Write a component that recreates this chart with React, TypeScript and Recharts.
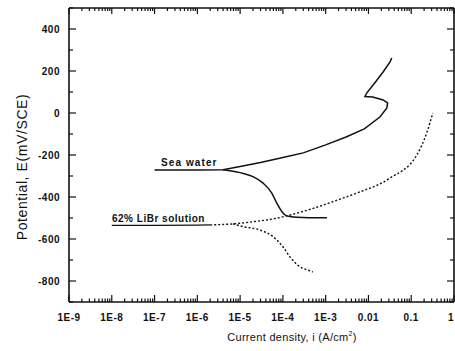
import React from 'react';
import { LineChart, Line, XAxis, YAxis, Customized } from 'recharts';

// current density axis (A/cm2), log decades
const decadeTicks = [1e-9, 1e-8, 1e-7, 1e-6, 1e-5, 1e-4, 1e-3, 1e-2, 1e-1, 1];
const decadeLabels = ['1E-9', '1E-8', '1E-7', '1E-6', '1E-5', '1E-4', '1E-3', '0.01', '0.1', '1'];
// potential axis (mV/SCE)
const potentialTicks = [-900, -800, -700, -600, -500, -400, -300, -200, -100, 0, 100, 200, 300, 400, 500];
const potentialLabels = ['-800', '-600', '-400', '-200', '0', '200', '400'];

// Sea water: anodic branch (with the nose near 0.02 A/cm2) and cathodic branch
const seaAnodicI = [1.0e-7, 1.0e-6, 4.0e-6, 1.0e-5, 3.0e-5, 1.0e-4, 3.0e-4, 1.0e-3, 3.0e-3, 8.0e-3, 1.85e-2, 2.7e-2, 2.8e-2, 2.2e-2, 1.26e-2, 8.3e-3, 9.1e-3, 1.4e-2, 2.2e-2, 3.2e-2, 3.5e-2];
const seaAnodicE = [-272, -272, -270, -255, -236, -212, -190, -152, -114, -76, -19, 24, 48, 62, 76, 78, 95, 143, 195, 243, 262];
const seaCathodicI = [4.0e-6, 1.0e-5, 2.0e-5, 3.4e-5, 5.5e-5, 7.2e-5, 9.5e-5, 1.23e-4, 2.1e-4, 4.0e-4, 1.07e-3];
const seaCathodicE = [-270, -284, -303, -333, -381, -429, -470, -490, -497, -499, -499];

// 62% LiBr solution: flat start, anodic and cathodic branches
const librBaseI = [1.0e-8, 1.0e-7, 1.0e-6, 2.0e-6];
const librBaseE = [-535, -535, -534, -533];
const librAnodicI = [2.0e-6, 6.8e-6, 2.0e-5, 7.2e-5, 1.23e-4, 4.3e-4, 2.1e-3, 5.4e-3, 3.2e-2, 0.135, 0.23, 0.32];
const librAnodicE = [-533, -528, -518, -501, -490, -459, -411, -381, -310, -200, -95, 0];
const librCathodicI = [6.8e-6, 1.17e-5, 2.9e-5, 5.9e-5, 1.0e-4, 1.45e-4, 2.2e-4, 4.3e-4, 5.0e-4];
const librCathodicE = [-528, -541, -557, -589, -637, -684, -724, -752, -757];

const toRows = (i: number[], e: number[]) => i.map((v, k) => ({ i: v, E: e[k] }));

const minorDecades = decadeTicks
    .flatMap(d => [1, 2, 3, 4, 5, 6, 7, 8, 9].map(m => m * d))
    .filter(v => v <= 1.0000001);

const FONT = '"Liberation Sans", Arial, sans-serif';
const INK = '#111';
const I_DOMAIN = [decadeTicks[0], decadeTicks[decadeTicks.length - 1]];
const E_DOMAIN = [potentialTicks[0], potentialTicks[potentialTicks.length - 1]];

const decadeIndex = (v: number) => decadeTicks.findIndex(d => Math.abs(v / d - 1) < 1e-6);

// ticks point into the plot; the axis hands us the point on the axis line
const BottomTick = (props: any) => {
    const { x, y, payload } = props;
    const idx = decadeIndex(payload.value);
    const major = idx >= 0;
    const last = idx === decadeTicks.length - 1;
    return (
        <g>
            <path d={`M${x},${y}V${y - (major ? 7 : 3.5)}`} stroke={INK} strokeWidth={1.2} fill="none" />
            {major && (
                <text x={last ? x - 3 : x} y={y + 19} textAnchor="middle" fontSize={10} fontWeight="bold"
                    fontFamily={FONT} fill={INK} letterSpacing={0.5}>
                    {decadeLabels[idx]}
                </text>
            )}
        </g>
    );
};

const TopTick = (props: any) => {
    const { x, y, payload } = props;
    const major = decadeIndex(payload.value) >= 0;
    return <path d={`M${x},${y}V${y + (major ? 6 : 3)}`} stroke={INK} strokeWidth={1.2} fill="none" />;
};

const LeftTick = (props: any) => {
    const { x, y, payload } = props;
    const v = payload.value;
    const label = potentialLabels.find(l => Number(l) === v);
    return (
        <g>
            <path d={`M${x},${y}H${x + (v % 200 === 0 ? 7 : 4)}`} stroke={INK} strokeWidth={1.2} fill="none" />
            {label !== undefined && (
                <text x={x - 9} y={y + 3.5} textAnchor="end" fontSize={10} fontWeight="bold"
                    fontFamily={FONT} fill={INK} letterSpacing={0.5}>
                    {label}
                </text>
            )}
        </g>
    );
};

const RightTick = (props: any) => {
    const { x, y, payload } = props;
    return <path d={`M${x},${y}H${x - (payload.value % 200 === 0 ? 7 : 4)}`} stroke={INK} strokeWidth={1.2} fill="none" />;
};

const Annotations = () => (
    <g fontFamily={FONT} fill={INK}>
        <text x={161} y={166} fontSize={10} fontWeight="bold" letterSpacing={1.1}>Sea water</text>
        <text x={112} y={221.5} fontSize={10} fontWeight="bold" letterSpacing={0.5}>62% LiBr solution</text>
        <text x={27} y={167} fontSize={14} letterSpacing={0.6} textAnchor="middle"
            transform="rotate(-90 27 167)">Potential, E(mV/SCE)</text>
        <text x={292} y={341} fontSize={11} letterSpacing={0.3} textAnchor="middle">
            Current density, i (A/cm<tspan dy={-5} fontSize={7}>2</tspan><tspan dy={5}>)</tspan>
        </text>
    </g>
);

export default function App() {
    const solid = { stroke: INK, strokeWidth: 1.5, dot: false, isAnimationActive: false, xAxisId: 'b', yAxisId: 'l' } as const;
    const dotted = { ...solid, strokeWidth: 1.4, strokeDasharray: '2 2' };
    const axisLine = { stroke: INK, strokeWidth: 1.6 };
    const common = { type: 'number', allowDataOverflow: true, interval: 0, tickSize: 0, tickMargin: 0, tickLine: false, axisLine } as const;
    return (
        <div style={{ position: 'absolute', left: 0, top: 0, background: '#fff' }}>
            <LineChart width={455} height={351} margin={{ top: 7, right: 0, bottom: 19, left: 0 }}>
                <XAxis {...common} xAxisId="b" dataKey="i" scale="log" domain={I_DOMAIN}
                    ticks={minorDecades} tick={BottomTick} height={30} />
                <XAxis {...common} xAxisId="t" orientation="top" dataKey="i" scale="log" domain={I_DOMAIN}
                    ticks={minorDecades} tick={TopTick} height={1} />
                <YAxis {...common} yAxisId="l" domain={E_DOMAIN} ticks={potentialTicks} tick={LeftTick} width={69} />
                <YAxis {...common} yAxisId="r" orientation="right" domain={E_DOMAIN} ticks={potentialTicks}
                    tick={RightTick} width={1} />
                <Line {...solid} data={toRows(seaAnodicI, seaAnodicE)} dataKey="E" type="linear" />
                <Line {...solid} data={toRows(seaCathodicI, seaCathodicE)} dataKey="E" type="monotone" />
                <Line {...solid} strokeWidth={1.3} data={toRows(librBaseI, librBaseE)} dataKey="E" type="linear" />
                <Line {...dotted} data={toRows(librAnodicI, librAnodicE)} dataKey="E" type="monotone" />
                <Line {...dotted} data={toRows(librCathodicI, librCathodicE)} dataKey="E" type="monotone" />
                <Customized component={Annotations} />
            </LineChart>
        </div>
    );
}
